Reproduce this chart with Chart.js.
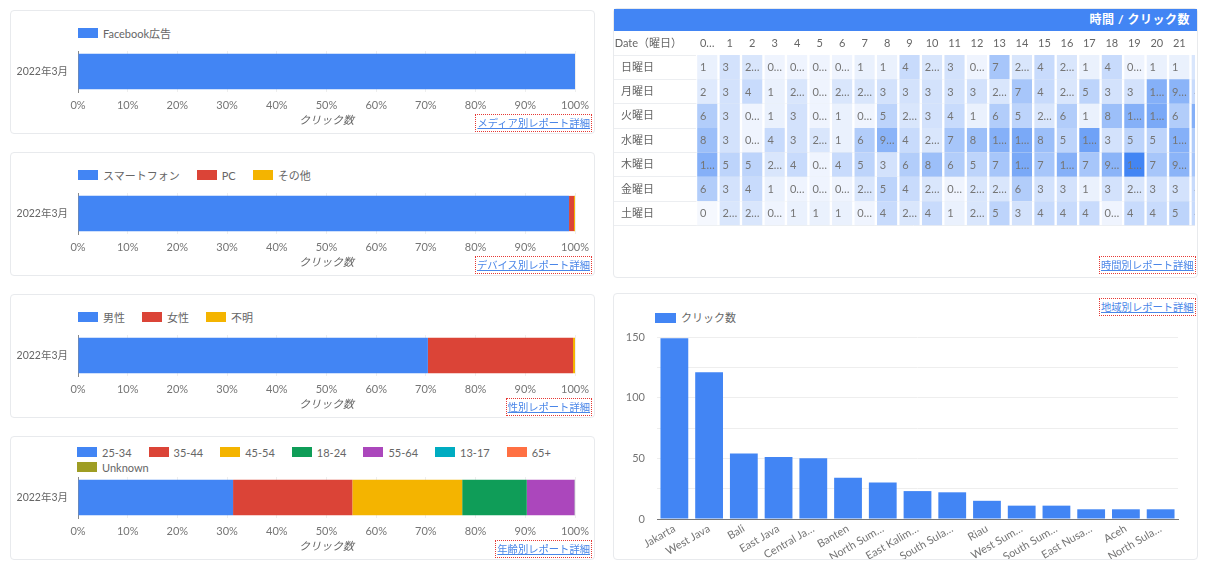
<!DOCTYPE html>
<html><head><meta charset="utf-8">
<script src="https://cdn.jsdelivr.net/npm/chart.js@4.4.1/dist/chart.umd.min.js"></script>
<style>
html,body{margin:0;padding:0;background:#fff;}
body{width:1209px;height:569px;position:relative;overflow:hidden;font-family:'Lato','Noto Sans CJK JP',sans-serif;}
.panel{position:absolute;box-sizing:border-box;border:1px solid #e8eaed;border-radius:4px;background:#fff;}
.panel canvas{position:absolute;}
.legend{position:absolute;display:flex;flex-wrap:wrap;font-size:11px;color:#666;line-height:15px;}
.legend .item{display:flex;align-items:center;margin-right:17px;white-space:nowrap;}
.legend .box{width:20px;height:10px;margin-right:5px;}
.link{position:absolute;border:1px dotted #e53935;font-size:10.3px;color:#4a86e8;text-decoration:underline;padding:0 1px;line-height:16px;white-space:nowrap;}
.hm-head{position:absolute;left:0;top:0;right:0;height:22px;background:#4285f4;color:#fff;font-weight:bold;font-size:12px;letter-spacing:0.5px;text-align:right;line-height:22px;padding-right:7px;box-sizing:border-box;}
.hm-clip{position:absolute;left:0;top:22px;width:581px;height:200px;overflow:hidden;}
</style>
</head>
<body>

<div class="panel" style="left:10px;top:10px;width:585px;height:124px;">
  <div class="legend" id="lg1" style="left:67px;top:14.5px;"></div>
  <canvas id="c1" width="583" height="87" style="left:0;top:35px;"></canvas>
  <div class="link" style="right:2px;bottom:1px;">メディア別レポート詳細</div>
</div>
<div class="panel" style="left:10px;top:152px;width:585px;height:124px;">
  <div class="legend" id="lg2" style="left:67px;top:14.5px;"></div>
  <canvas id="c2" width="583" height="87" style="left:0;top:35px;"></canvas>
  <div class="link" style="right:2px;bottom:1px;">デバイス別レポート詳細</div>
</div>
<div class="panel" style="left:10px;top:294px;width:585px;height:124px;">
  <div class="legend" id="lg3" style="left:67px;top:14.5px;"></div>
  <canvas id="c3" width="583" height="87" style="left:0;top:35px;"></canvas>
  <div class="link" style="right:2px;bottom:1px;">性別レポート詳細</div>
</div>
<div class="panel" style="left:10px;top:436px;width:585px;height:124px;">
  <div class="legend" id="lg4" style="left:66px;top:7.5px;width:500px;"></div>
  <canvas id="c4" width="583" height="87" style="left:0;top:35px;"></canvas>
  <div class="link" style="right:2px;bottom:1px;">年齢別レポート詳細</div>
</div>

<div class="panel" style="left:613px;top:8px;width:585px;height:270px;">
  <div class="hm-head">時間 / クリック数</div>
  <div class="hm-clip"><canvas id="hm" width="599" height="196" style="left:0;top:0;"></canvas></div>
  <div class="link" style="left:485px;top:247px;">時間別レポート詳細</div>
</div>

<div class="panel" style="left:613px;top:293px;width:585px;height:267px;">
  <div class="legend" id="lg6" style="left:41px;top:16px;"></div>
  <canvas id="c6" width="583" height="235" style="left:0;top:30px;"></canvas>
  <div class="link" style="left:485px;top:4px;">地域別レポート詳細</div>
</div>

<script>
// ---------- data ----------
const periodLabels = ['2022年3月'];

const mediaLabels = ['Facebook広告'];
const mediaShare = [100];

const deviceLabels = ['スマートフォン', 'PC', 'その他'];
const deviceShare = [98.8, 1.0, 0.2];

const genderLabels = ['男性', '女性', '不明'];
const genderShare = [70.4, 29.2, 0.4];

const ageLabels = ['25-34', '35-44', '45-54', '18-24', '55-64', '13-17', '65+', 'Unknown'];
const ageShare = [31.2, 24.0, 22.1, 13.0, 9.6, 0.05, 0.04, 0.01];

const percentTicks = [0, 10, 20, 30, 40, 50, 60, 70, 80, 90, 100];

const dayLabels = ['日曜日', '月曜日', '火曜日', '水曜日', '木曜日', '金曜日', '土曜日'];
const hourLabels = ['0…', '1', '2', '3', '4', '5', '6', '7', '8', '9', '10', '11', '12', '13', '14', '15', '16', '17', '18', '19', '20', '21', '22'];
const dayHeader = 'Date（曜日）';
const heatSun = [1, 3, 2.5, 0.5, 0.5, 0.5, 0.5, 1, 1, 4, 2.5, 3, 0.5, 7, 2.5, 4, 2.5, 1, 4, 0.5, 1, 1, 2.5];
const heatMon = [2, 3, 4, 1, 2.5, 0.5, 2.5, 2.5, 3, 3, 3, 3, 3, 2.5, 7, 4, 2.5, 5, 3, 3, 10, 9.5, 4];
const heatTue = [6, 3, 0.5, 1, 3, 0.5, 1, 0.5, 5, 2.5, 3, 4, 1, 6, 5, 2.5, 6, 1, 8, 10, 11, 6, 10];
const heatWed = [8, 3, 0.5, 4, 3, 2.5, 1, 6, 9.5, 4, 2.5, 7, 8, 10, 11, 8, 5, 12, 3, 5, 5, 10, 6];
const heatThu = [10, 5, 5, 2.5, 4, 0.5, 4, 5, 3, 6, 8, 6, 5, 7, 11, 7, 10, 7, 9.5, 16, 7, 9.5, 7];
const heatFri = [6, 3, 4, 1, 0.5, 0.5, 0.5, 2.5, 5, 4, 2.5, 0.5, 2.5, 2.5, 6, 3, 3, 1, 3, 2.5, 3, 3, 4];
const heatSat = [0, 2.5, 2.5, 0.5, 1, 1, 1, 0.5, 4, 2.5, 4, 1, 2.5, 5, 3, 4, 4, 4, 0.5, 4, 4, 5, 4];
const heatRows = [heatSun, heatMon, heatTue, heatWed, heatThu, heatFri, heatSat];

const regionLabels = ['Jakarta', 'West Java', 'Bali', 'East Java', 'Central Ja…', 'Banten', 'North Sum…', 'East Kalim…', 'South Sula…', 'Riau', 'West Sum…', 'South Sum…', 'East Nusa…', 'Aceh', 'North Sula…'];
const regionClicks = [149, 121, 54, 51, 50, 34, 30, 23, 22, 15, 11, 11, 8, 8, 8];
const regionSeriesLabel = 'クリック数';
const regionTicks = [0, 25, 50, 75, 100, 125, 150];

// ---------- styling ----------
const FONT = "'Lato','Noto Sans CJK JP',sans-serif";
Chart.defaults.font.family = FONT;
Chart.defaults.font.size = 11;
Chart.defaults.color = '#757575';
const palette = ['#4285f4', '#db4437', '#f4b400', '#0f9d58', '#ab47bc', '#00acc1', '#ff7043', '#9e9d24'];

function noPad(a) { a.paddingTop = 0; a.paddingBottom = 0; a.paddingLeft = 0; a.paddingRight = 0; }

function buildLegend(chart, el, boxW) {
  chart.data.datasets.forEach(ds => {
    const it = document.createElement('div'); it.className = 'item';
    const b = document.createElement('span'); b.className = 'box'; b.style.background = ds.backgroundColor;
    if (boxW) b.style.width = boxW + 'px';
    const t = document.createElement('span'); t.textContent = ds.label;
    it.appendChild(b); it.appendChild(t); el.appendChild(it);
  });
}

function makeShareChart(id, legendId, labels, values) {
  const chart = new Chart(document.getElementById(id), {
    type: 'bar',
    data: {
      labels: periodLabels,
      datasets: labels.map((l, i) => ({
        label: l, data: [values[i]], backgroundColor: palette[i],
        barPercentage: 0.86, categoryPercentage: 1
      }))
    },
    options: {
      indexAxis: 'y', responsive: false, animation: false,
      layout: { padding: { top: 5, right: 19, bottom: 0, left: 0 } },
      plugins: { legend: { display: false }, tooltip: { enabled: false } },
      scales: {
        x: {
          stacked: true, min: 0, max: 100,
          afterBuildTicks: a => { a.ticks = percentTicks.map(v => ({ value: v })); },
          ticks: { padding: 7, autoSkip: false, maxRotation: 0, callback: v => v + '%' },
          grid: { color: '#eeeeee', drawTicks: false },
          border: { display: false },
          title: { display: true, text: 'クリック数', color: '#666', font: { style: 'italic', size: 11 }, padding: { top: 4, bottom: 6 } },
          afterFit: noPad
        },
        y: {
          stacked: true,
          grid: { display: false, drawTicks: false },
          border: { display: true, color: '#8a8a8a', width: 1 },
          ticks: { padding: 10, color: '#666', font: { size: 10.5 } },
          afterFit: a => { noPad(a); a.width = 67; }
        }
      }
    }
  });
  buildLegend(chart, document.getElementById(legendId));
}

makeShareChart('c1', 'lg1', mediaLabels, mediaShare);
makeShareChart('c2', 'lg2', deviceLabels, deviceShare);
makeShareChart('c3', 'lg3', genderLabels, genderShare);
makeShareChart('c4', 'lg4', ageLabels, ageShare);

// ---------- heatmap ----------
const HEAT_MAX = Math.max(...heatRows.flat());
const lowRGB = [245, 248, 254], highRGB = [66, 133, 244];
function heatColor(v) {
  const t = Math.min(1, v / HEAT_MAX);
  const c = lowRGB.map((lo, k) => Math.round(lo + (highRGB[k] - lo) * t));
  return 'rgb(' + c.join(',') + ')';
}
function cellText(v) {
  const s = String(v);
  return s.length > 1 ? s[0] + '…' : s;
}
const cellLabels = {
  id: 'cellLabels',
  afterDatasetsDraw(chart) {
    const ctx = chart.ctx;
    ctx.save();
    ctx.font = '11px ' + FONT;
    ctx.fillStyle = '#757575';
    ctx.textBaseline = 'middle';
    ctx.textAlign = 'left';
    chart.data.datasets.forEach((ds, hi) => {
      chart.getDatasetMeta(hi).data.forEach((bar, di) => {
        const p = bar.getProps(['x', 'base', 'y'], true);
        ctx.fillText(cellText(heatRows[di][hi]), Math.min(p.x, p.base) + 4, p.y + 0.5);
      });
    });
    ctx.restore();
  }
};
const LABEL_COL_UNITS = 3.649;
new Chart(document.getElementById('hm'), {
  type: 'bar',
  data: {
    labels: dayLabels,
    datasets: hourLabels.map((h, hi) => ({
      label: h,
      data: dayLabels.map(() => 1),
      backgroundColor: ctx => heatColor(heatRows[ctx.dataIndex][hi]),
      borderColor: '#ffffff',
      borderWidth: { left: 1.5, right: 1.5, top: 0, bottom: 0 },
      borderSkipped: false,
      barPercentage: 1, categoryPercentage: 1
    }))
  },
  options: {
    indexAxis: 'y', responsive: false, animation: false,
    layout: { padding: { top: 0, right: 0, bottom: 1.5, left: 0 } },
    plugins: { legend: { display: false }, tooltip: { enabled: false } },
    scales: {
      x: {
        type: 'linear', position: 'top', stacked: true,
        min: -LABEL_COL_UNITS, max: hourLabels.length,
        grid: { display: false, drawTicks: false }, border: { display: false },
        afterBuildTicks: a => { a.ticks = [{ value: -2.12 }].concat(hourLabels.map((h, i) => ({ value: i + 0.5 }))); },
        ticks: { padding: 5.3, autoSkip: false, maxRotation: 0, minRotation: 0, color: '#666',
                 callback: (v, i) => i === 0 ? dayHeader : hourLabels[i - 1] },
        afterFit: a => { noPad(a); a.height = 24; }
      },
      y: {
        stacked: true,
        grid: { color: '#eceef1', drawTicks: false, offset: true },
        border: { display: false },
        ticks: { mirror: true, padding: 7, color: '#666' },
        afterFit: a => { noPad(a); a.width = 0; }
      }
    }
  },
  plugins: [cellLabels]
});

// ---------- region bar chart ----------
const regionChart = new Chart(document.getElementById('c6'), {
  type: 'bar',
  data: {
    labels: regionLabels,
    datasets: [{ label: regionSeriesLabel, data: regionClicks, backgroundColor: palette[0], barPercentage: 1, categoryPercentage: 0.8 }]
  },
  options: {
    responsive: false, animation: false,
    layout: { padding: { top: 13, right: 19, bottom: 0, left: 0 } },
    plugins: { legend: { display: false }, tooltip: { enabled: false } },
    scales: {
      x: {
        grid: { display: false, drawTicks: false },
        border: { display: true, color: '#777' },
        ticks: { minRotation: 30, maxRotation: 30, padding: 3, autoSkip: false },
        afterFit: a => { noPad(a); a.height = 40; }
      },
      y: {
        min: 0, max: 150,
        afterBuildTicks: a => { a.ticks = regionTicks.map(v => ({ value: v })); },
        ticks: { padding: 12, callback: v => (v % 50 === 0 ? v : '') },
        grid: { color: '#eeeeee', drawTicks: false },
        border: { display: false },
        afterFit: a => { noPad(a); a.width = 43; }
      }
    }
  }
});
buildLegend(regionChart, document.getElementById('lg6'), 21);
</script>
</body></html>
